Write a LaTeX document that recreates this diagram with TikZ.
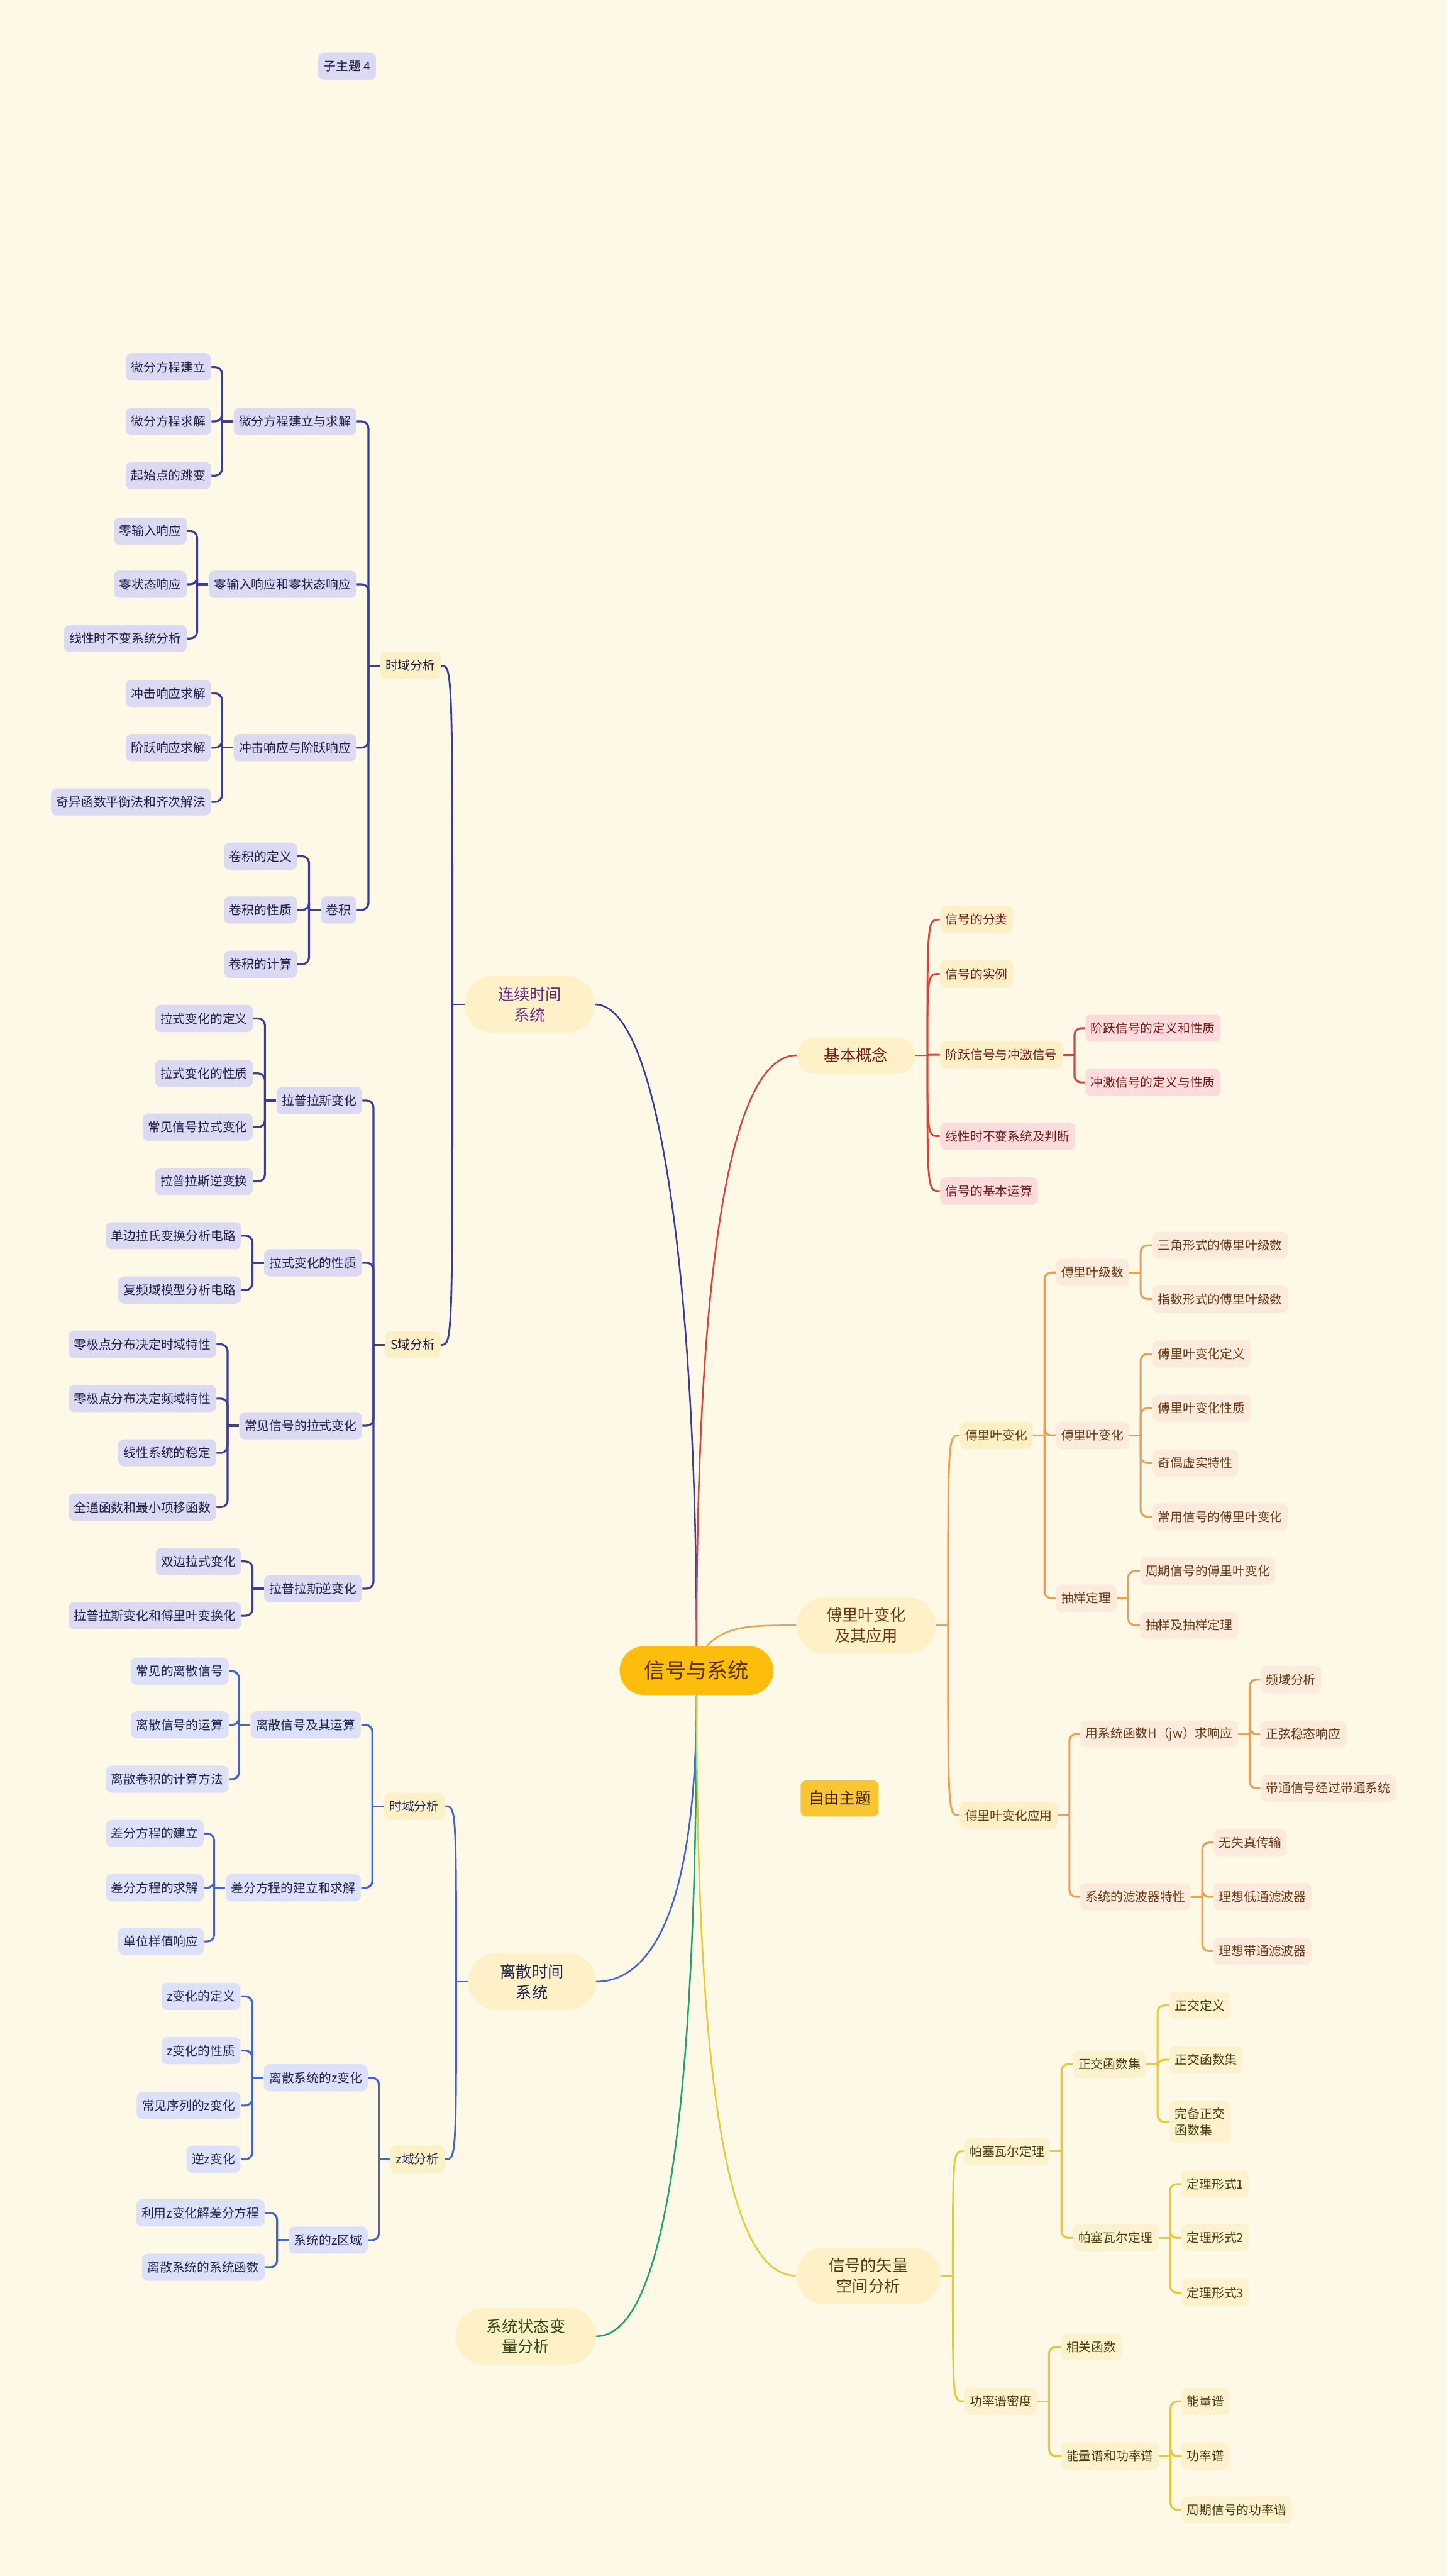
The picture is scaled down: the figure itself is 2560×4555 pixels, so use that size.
\documentclass[tikz,border=0pt]{standalone}
\usepackage{fontspec}
\setmainfont{Noto Sans CJK SC}

\definecolor{bgcream}{HTML}{FEF8E6}
\definecolor{rootfill}{HTML}{FCBD0C}
\definecolor{roottext}{HTML}{5A3100}
\definecolor{topicfill}{HTML}{FEF1C7}
\definecolor{subfill}{HTML}{FDF0C6}
\definecolor{contline}{HTML}{3B3C9B}
\definecolor{contfill}{HTML}{DCD9F2}
\definecolor{conttext}{HTML}{1E1E48}
\definecolor{contpurple}{HTML}{6A2C8C}
\definecolor{discline}{HTML}{4262D6}
\definecolor{discfill}{HTML}{DCE0F8}
\definecolor{disctext}{HTML}{1F2450}
\definecolor{basicline}{HTML}{D8433B}
\definecolor{basictext}{HTML}{731A1A}
\definecolor{pinkfill}{HTML}{FBDBDB}
\definecolor{fourline}{HTML}{E9A056}
\definecolor{fourfill}{HTML}{FCEBDC}
\definecolor{fourtext}{HTML}{6A3A14}
\definecolor{vecline}{HTML}{E8C935}
\definecolor{vecfill}{HTML}{FDF2CE}
\definecolor{vectext}{HTML}{4A3C0E}
\definecolor{stateline}{HTML}{1FA272}
\definecolor{statetext}{HTML}{2B4A16}
\definecolor{freefill}{HTML}{FAC533}

\tikzset{
  leaf/.style={rounded corners=1mm, inner xsep=0.95mm, inner ysep=0pt, minimum height=4.8mm,
    font=\fontsize{6.26pt}{8pt}\selectfont},
  cleaf/.style={leaf, fill=contfill, text=conttext},
  csub/.style={leaf, fill=subfill, text=conttext},
  dleaf/.style={leaf, fill=discfill, text=disctext},
  dsub/.style={leaf, fill=subfill, text=disctext},
  bleaf/.style={leaf, fill=pinkfill, text=basictext},
  bsub/.style={leaf, fill=subfill, text=basictext},
  fleaf/.style={leaf, fill=fourfill, text=fourtext},
  fsub/.style={leaf, fill=subfill, text=fourtext},
  vleaf/.style={leaf, fill=vecfill, text=vectext},
  topic/.style={rounded corners=4.9mm, inner sep=0pt, align=center, minimum height=10mm,
    fill=topicfill, font=\fontsize{8pt}{10.4pt}\selectfont},
  rootnode/.style={rounded corners=4.3mm, inner sep=0pt, minimum width=27.2mm, minimum height=8.6mm,
    fill=rootfill, text=roottext, font=\fontsize{10.5pt}{12pt}\selectfont},
  freenode/.style={rounded corners=1mm, inner sep=0pt, minimum width=13.8mm, minimum height=6.4mm,
    fill=freefill, text=roottext!70!black, font=\fontsize{7.8pt}{9pt}\selectfont},
  link/.style={line width=1pt, rounded corners=1.2mm},
  curve/.style={line width=0.9pt},
  trunk/.style={line width=0.8pt},
}

\begin{document}
\begin{tikzpicture}[x=0.1mm,y=-0.1mm]
\fill[bgcream] (0,0) rectangle (2560,4555);
\useasboundingbox (0,0) rectangle (2560,4555);

\node[rootnode] (root) at (1232,2954) {信号与系统};
\node[cleaf] (sub4) at (614,117) {子主题 4};
\node[freenode] (free) at (1485,3180) {自由主题};

% main topics
\node[topic, text=contpurple, minimum width=23mm] (cont) at (937,1776) {连续时间\\系统};
\node[topic, text=disctext, minimum width=22.5mm] (disc) at (941,3504) {离散时间\\系统};
\node[topic, text=statetext, minimum width=24.8mm] (state) at (930,4131) {系统状态变\\量分析};
\node[topic, text=basictext, minimum width=20.9mm, minimum height=6.4mm, rounded corners=3.2mm] (basic) at (1514,1866) {基本概念};
\node[topic, text=fourtext, minimum width=24.6mm] (four) at (1532,2874) {傅里叶变化\\及其应用};
\node[topic, text=vectext, minimum width=25.5mm] (vec) at (1536,4024) {信号的矢量\\空间分析};

% continuous time
\node[csub, anchor=east] (ctime) at (780,1177) {时域分析};
\node[csub, anchor=east] (csdom) at (780,2378) {S域分析};
\foreach \n/\y/\txt in {cde/745/微分方程建立与求解, czr/1033/零输入响应和零状态响应,
    cimp/1322/冲击响应与阶跃响应, cconv/1609/卷积}
  \node[cleaf, anchor=east] (\n) at (631,\y) {\txt};
\foreach \n/\y/\txt in {clap/1946/拉普拉斯变化, clp/2233/拉式变化的性质,
    ccom/2521/常见信号的拉式变化, cinv/2809/拉普拉斯逆变化}
  \node[cleaf, anchor=east] (\n) at (641,\y) {\txt};
\foreach \n/\x/\y/\txt in {cde1/374/649/微分方程建立, cde2/374/745/微分方程求解, cde3/374/841/起始点的跳变,
    czr1/331/939/零输入响应, czr2/331/1033/零状态响应, czr3/331/1129/线性时不变系统分析,
    cimp1/374/1226/冲击响应求解, cimp2/374/1322/阶跃响应求解, cimp3/374/1418/奇异函数平衡法和齐次解法,
    cconv1/526/1514/卷积的定义, cconv2/526/1609/卷积的性质, cconv3/526/1705/卷积的计算,
    clap1/448/1801/拉式变化的定义, clap2/448/1898/拉式变化的性质, clap3/448/1993/常见信号拉式变化,
    clap4/448/2089/拉普拉斯逆变换,
    clp1/427/2185/单边拉氏变换分析电路, clp2/427/2281/复频域模型分析电路,
    ccom1/383/2377/零极点分布决定时域特性, ccom2/383/2473/零极点分布决定频域特性,
    ccom3/383/2569/线性系统的稳定, ccom4/383/2665/全通函数和最小项移函数,
    cinv1/427/2761/双边拉式变化, cinv2/427/2857/拉普拉斯变化和傅里叶变换化}
  \node[cleaf, anchor=east] (\n) at (\x,\y) {\txt};

% discrete time
\node[dsub, anchor=east] (dtime) at (787,3194) {时域分析};
\node[dsub, anchor=east] (dzdom) at (787,3818) {z域分析};
\foreach \n/\x/\y/\txt in {dsig/639/3050/离散信号及其运算, ddiff/639/3338/差分方程的建立和求解,
    dzt/651/3674/离散系统的z变化, dzr/651/3961/系统的z区域,
    dsig1/405/2955/常见的离散信号, dsig2/405/3050/离散信号的运算, dsig3/405/3146/离散卷积的计算方法,
    ddiff1/361/3242/差分方程的建立, ddiff2/361/3338/差分方程的求解, ddiff3/361/3433/单位样值响应,
    dzt1/426/3530/z变化的定义, dzt2/426/3626/z变化的性质, dzt3/426/3723/常见序列的z变化,
    dzt4/426/3818/逆z变化,
    dzr1/469/3913/利用z变化解差分方程, dzr2/469/4009/离散系统的系统函数}
  \node[dleaf, anchor=east] (\n) at (\x,\y) {\txt};

% basic concepts
\foreach \n/\y/\txt in {bcls/1626/信号的分类, bex/1722/信号的实例, bstep/1865/阶跃信号与冲激信号}
  \node[bsub, anchor=west] (\n) at (1662,\y) {\txt};
\foreach \n/\x/\y/\txt in {blti/1662/2009/线性时不变系统及判断, bops/1662/2106/信号的基本运算,
    bstep1/1919/1818/阶跃信号的定义和性质, bstep2/1919/1914/冲激信号的定义与性质}
  \node[bleaf, anchor=west] (\n) at (\x,\y) {\txt};

% fourier
\node[fsub, anchor=west] (fft) at (1697,2538) {傅里叶变化};
\node[fsub, anchor=west] (fapp) at (1697,3210) {傅里叶变化应用};
\foreach \n/\x/\y/\txt in {fser/1867/2250/傅里叶级数, ftr/1867/2538/傅里叶变化, fsam/1867/2826/抽样定理,
    fser1/2038/2202/三角形式的傅里叶级数, fser2/2038/2297/指数形式的傅里叶级数,
    ftr1/2038/2394/傅里叶变化定义, ftr2/2038/2490/傅里叶变化性质, ftr3/2038/2587/奇偶虚实特性,
    ftr4/2038/2682/常用信号的傅里叶变化,
    fsam1/2016/2778/周期信号的傅里叶变化, fsam2/2016/2874/抽样及抽样定理,
    fh/1910/3066/用系统函数H（jw）求响应, ffil/1910/3354/系统的滤波器特性,
    fh1/2229/2970/频域分析, fh2/2229/3066/正弦稳态响应, fh3/2229/3162/带通信号经过带通系统,
    ffil1/2146/3258/无失真传输, ffil2/2146/3354/理想低通滤波器, ffil3/2146/3450/理想带通滤波器}
  \node[fleaf, anchor=west] (\n) at (\x,\y) {\txt};

% vector space
\foreach \n/\x/\y/\txt in {vpar/1705/3804/帕塞瓦尔定理, vpow/1705/4246/功率谱密度,
    vorth/1897/3650/正交函数集, vpt/1897/3957/帕塞瓦尔定理,
    vorth1/2068/3546/正交定义, vorth2/2068/3642/正交函数集,
    vpt1/2089/3862/定理形式1, vpt2/2089/3957/定理形式2, vpt3/2089/4054/定理形式3,
    vcor/1876/4150/相关函数, ven/1876/4343/能量谱和功率谱,
    ven1/2089/4246/能量谱, ven2/2089/4343/功率谱, ven3/2089/4438/周期信号的功率谱}
  \node[vleaf, anchor=west] (\n) at (\x,\y) {\txt};
\node[vleaf, anchor=west, align=left, minimum height=7.5mm] (vorth3) at (2068,3752) {完备正交\\函数集};

% root branches
\draw[trunk, contline] (root.north) .. controls (1232,2300) and (1170,1776) .. (cont.east);
\draw[trunk, basicline] (root.north) .. controls (1232,2250) and (1290,1866) .. (basic.west);
\draw[trunk, fourline] ([xshift=1.8mm]root.north) .. controls (1285,2874) and (1330,2874) .. (four.west);
\draw[trunk, discline] (root.south) .. controls (1232,3380) and (1150,3504) .. (disc.east);
\draw[trunk, stateline] (root.south) .. controls (1232,3700) and (1180,4131) .. (state.east);
\draw[trunk, vecline] (root.south) .. controls (1232,3700) and (1290,4024) .. (vec.west);

% topic to first level
\foreach \p/\kids/\col in {cont/{ctime,csdom}/contline, disc/{dtime,dzdom}/discline}{
  \draw[curve, \col] (\p.west) -- ++(-21,0) coordinate (k);
  \foreach \c in \kids \draw[curve, \col] (k) .. controls (k |- \c.east) .. (\c.east);
}
\foreach \p/\kids/\col in {basic/{bcls,bex,bstep,blti,bops}/basicline,
    four/{fft,fapp}/fourline, vec/{vpar,vpow}/vecline}{
  \draw[curve, \col] (\p.east) -- ++(21,0) coordinate (k);
  \foreach \c in \kids \draw[curve, \col] (k) .. controls (k |- \c.west) .. (\c.west);
}

% brackets, left side
\foreach \p/\kids/\col in {ctime/{cde,czr,cimp,cconv}/contline, csdom/{clap,clp,ccom,cinv}/contline,
    cde/{cde1,cde2,cde3}/contline, czr/{czr1,czr2,czr3}/contline, cimp/{cimp1,cimp2,cimp3}/contline,
    cconv/{cconv1,cconv2,cconv3}/contline, clap/{clap1,clap2,clap3,clap4}/contline,
    clp/{clp1,clp2}/contline, ccom/{ccom1,ccom2,ccom3,ccom4}/contline, cinv/{cinv1,cinv2}/contline,
    dtime/{dsig,ddiff}/discline, dzdom/{dzt,dzr}/discline, dsig/{dsig1,dsig2,dsig3}/discline,
    ddiff/{ddiff1,ddiff2,ddiff3}/discline, dzt/{dzt1,dzt2,dzt3,dzt4}/discline, dzr/{dzr1,dzr2}/discline}{
  \draw[link, \col] (\p.west) -- ++(-20,0) coordinate (j);
  \foreach \c in \kids \draw[link, \col] (j) |- (\c.east);
}

% brackets, right side
\foreach \p/\kids/\col in {bstep/{bstep1,bstep2}/basicline,
    fft/{fser,ftr,fsam}/fourline, fapp/{fh,ffil}/fourline, fser/{fser1,fser2}/fourline,
    ftr/{ftr1,ftr2,ftr3,ftr4}/fourline, fsam/{fsam1,fsam2}/fourline, fh/{fh1,fh2,fh3}/fourline,
    ffil/{ffil1,ffil2,ffil3}/fourline,
    vpar/{vorth,vpt}/vecline, vpow/{vcor,ven}/vecline, vorth/{vorth1,vorth2,vorth3}/vecline,
    vpt/{vpt1,vpt2,vpt3}/vecline, ven/{ven1,ven2,ven3}/vecline}{
  \draw[link, \col] (\p.east) -- ++(20,0) coordinate (j);
  \foreach \c in \kids \draw[link, \col] (j) |- (\c.west);
}
\end{tikzpicture}
\end{document}
